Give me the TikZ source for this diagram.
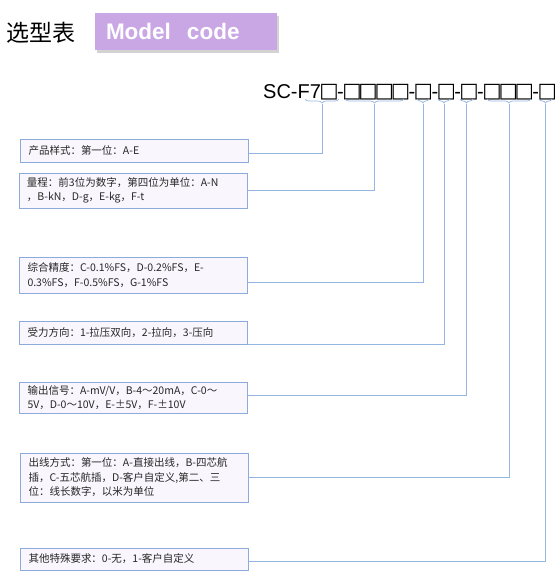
\documentclass[tikz,border=0pt]{standalone}
\usepackage{fontspec}
\usepackage{xcolor}
\usepackage{tikz}
\usetikzlibrary{positioning, shadows, decorations.pathreplacing}
\newfontfamily\cjk{Noto Sans CJK SC}
\newfontfamily\arial{Liberation Sans}
\newfontfamily\dejavu{DejaVu Sans}
\definecolor{lilac}{RGB}{201,167,229}
\definecolor{boxline}{RGB}{140,170,218}
\definecolor{linkline}{RGB}{150,182,226}
\definecolor{boxfill}{RGB}{249,247,253}
\newcommand{\sq}{\makebox[16.2pt]{\raisebox{1pt}{\dejavu\fontsize{20.5}{24}\selectfont □}}}

\begin{document}
\begin{tikzpicture}[x=1pt, y=-1pt,
    infobox/.style={draw=boxline, line width=0.8pt, fill=boxfill, rectangle, text width=212pt,
        inner xsep=8pt, inner ysep=0pt, align=left, text=black!85,
        font=\cjk\fontsize{10.5}{14.5}\selectfont},
    link/.style={draw=linkline, line width=0.9pt},
    bracket/.style={draw=linkline, line width=0.7pt, decorate,
        decoration={brace, mirror, amplitude=4pt}}]
        \useasboundingbox (0,0) rectangle (560,582);

        \node[anchor=west, font=\cjk\fontsize{23}{26}\selectfont] (title) at (3,33) {选型表};
        \node[fill=lilac, minimum height=37pt, text width=160pt, inner xsep=11pt, inner ysep=0pt,
            align=left, drop shadow={shadow xshift=2pt, shadow yshift=-3pt, opacity=0.35},
            font=\arial\bfseries\fontsize{22.5}{26}\selectfont, text=white] (model) at (186,31.5)
            {Model\hspace{16pt}code};

        \node[anchor=west, inner sep=0pt, font=\arial\fontsize{20}{24}\selectfont] (code) at (263,92)
            {SC-F7\sq-\sq\sq\sq\sq-\sq-\sq-\sq-\sq\sq\sq-\sq};

        \foreach \l/\r/\n in {305/339/1, 345/404/2, 417/429/3, 438/450/4, 460/473/5, 487/531/6, 539/552/7}
        {
            \draw[bracket] (\l,99) -- (\r,99);
            \coordinate (p\n) at ({(\l+\r)/2},104);
        }

        \node[infobox, minimum height=23pt] (a) at (134.5,150.5) {产品样式：第一位：A-E};
        \node[infobox, minimum height=35pt] (b) at (133,190.5) {量程：前3位为数字，第四位为单位：A-N\\，B-kN，D-g，E-kg，F-t};
        \node[infobox, minimum height=36pt] (c) at (133.5,275) {综合精度：C-0.1\%FS，D-0.2\%FS，E-\\0.3\%FS，F-0.5\%FS，G-1\%FS};
        \node[infobox, minimum height=23pt] (d) at (133.5,332.5) {受力方向：1-拉压双向，2-拉向，3-压向};
        \node[infobox, minimum height=31pt] (e) at (133.5,397.5) {输出信号：A-mV/V，B-4～20mA，C-0～\\5V，D-0～10V，E-±5V，F-±10V};
        \node[infobox, minimum height=49pt] (f) at (134.5,477.5) {出线方式：第一位：A-直接出线，B-四芯航\\插，C-五芯航插，D-客户自定义,第二、三\\位：线长数字，以米为单位};
        \node[infobox, minimum height=22pt] (g) at (134.5,559) {其他特殊要求：0-无，1-客户自定义};

        \foreach \from/\to/\dy in {a/p1/-2.5, b/p2/0.5, c/p3/-7, d/p4/-11.5, e/p5/2.5, f/p6/0.5, g/p7/-2}
            \draw[link] ([yshift=\dy pt]\from.east) -| (\to);
\end{tikzpicture}
\end{document}
